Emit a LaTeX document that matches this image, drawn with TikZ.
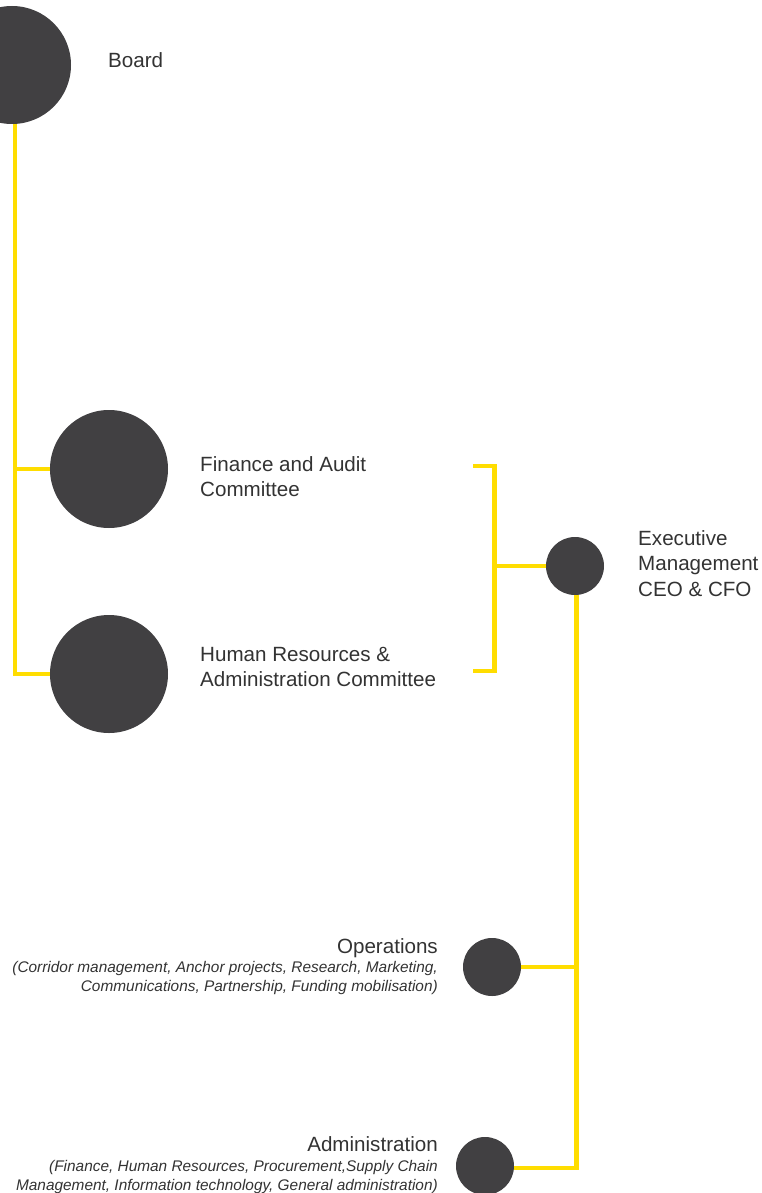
\documentclass[tikz,border=0pt]{standalone}
\usepackage{fontspec}
\setmainfont{Liberation Sans}
\definecolor{dot}{HTML}{414042}
\definecolor{yl}{HTML}{FFDD00}
\definecolor{txt}{HTML}{333333}
\begin{document}
\begin{tikzpicture}[x=1pt,y=-1pt,
  big/.style={circle,fill=dot,minimum size=118pt,inner sep=0pt},
  small/.style={circle,fill=dot,minimum size=58pt,inner sep=0pt},
  link/.style={draw=yl,line width=4.5pt},
  lbl/.style={inner sep=0pt,text=txt,font=\fontsize{20.6}{25.5}\selectfont},
  sub/.style={inner sep=0pt,text=txt,font=\fontsize{15.4}{19}\selectfont\itshape}]
\useasboundingbox[fill=white] (0,0) rectangle (761,1193);
% circles
\node[big] (board) at (12,65) {};
\node[big] (fin) at (109,469) {};
\node[big] (hr) at (109,674) {};
\node[small] (exec) at (575,566) {};
\node[small] (ops) at (492,967) {};
\node[small] (adm) at (485,1166) {};
% connectors
\coordinate (trunk) at (15,124);
\draw[link] (trunk) |- (hr.west);
\draw[link] (trunk |- fin.west) -- (fin.west);
\coordinate (bt) at (473,466);
\coordinate (bb) at (473,671);
\coordinate (bm) at (494.5,566);
\draw[link] (bt) -| (bm) |- (bb);
\draw[link] (bm) -- (exec.west);
\coordinate (ev) at (576.5,1168);
\draw[link] (exec.south -| ev) -- (ev) -- (adm.east |- ev);
\draw[link] (ops.east) -- (ops.east -| ev);
% labels
\node[lbl,anchor=base west] (tboard) at (108,68) {Board};
\node[lbl,anchor=north west,align=left] (tfin) at (200,456) {Finance and Audit\\Committee};
\node[lbl,anchor=north west,align=left] (thr) at (200,647) {Human Resources \&\\Administration Committee};
\node[lbl,anchor=north west,align=left] (texec) at (638,530) {Executive\\Management\\CEO \& CFO};
\node[lbl,anchor=base east] (tops) at (438,953) {Operations};
\node[sub,anchor=north east,align=right] (tops2) at (438,961) {(Corridor management, Anchor projects, Research, Marketing,\\Communications, Partnership, Funding mobilisation)};
\node[lbl,anchor=base east] (tadm) at (438,1151) {Administration};
\node[sub,anchor=north east,align=right] (tadm2) at (438,1160) {(Finance, Human Resources, Procurement,Supply Chain\\Management, Information technology, General administration)};
\end{tikzpicture}
\end{document}
